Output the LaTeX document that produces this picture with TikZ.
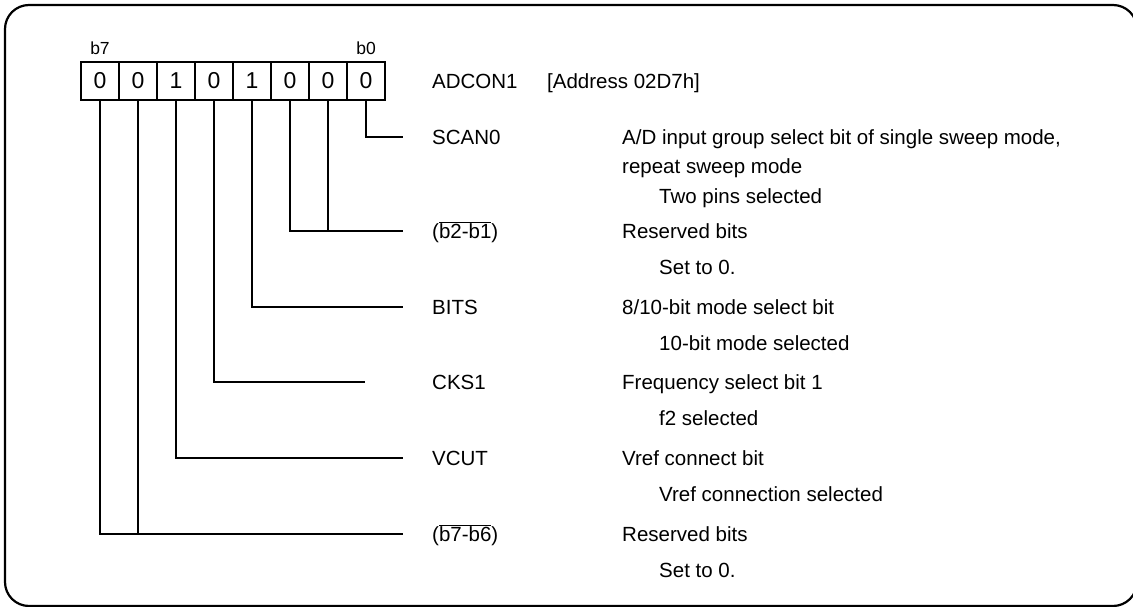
\documentclass[tikz,border=0pt]{standalone}
\usepackage{fontspec}
\setmainfont{Liberation Sans}
\begin{document}
\begin{tikzpicture}[x=1pt,y=-1pt,
  lbl/.style={font=\fontsize{20.5}{24}\selectfont, anchor=base west, inner sep=0pt},
  bitlbl/.style={font=\fontsize{17.5}{20}\selectfont, anchor=base, inner sep=0pt},
  cell/.style={draw, line width=1.4pt, minimum width=38pt, minimum height=38pt, inner sep=0pt, font=\fontsize{23}{26}\selectfont},
  wire/.style={line width=1.8pt},
  frame/.style={line width=2.2pt, rounded corners=24pt}]
\useasboundingbox (0,0) rectangle (1133,607);
\draw[frame] (5,5) rectangle (1137,606);
% bit cells
\foreach \v/\i [count=\k from 0] in {0/7,0/6,1/5,0/4,1/3,0/2,0/1,0/0}
  \node[cell] (c\i) at (100+38*\k,81) {\v};
\node[bitlbl] (b7) at (100,55) {b7};
\node[bitlbl] (b0) at (366,55) {b0};
% register title
\node[lbl] (reg) at (432,88.3) {ADCON1};
\node[lbl] (addr) at (547,88.3) {[Address 02D7h]};
% line ends
\coordinate (e0) at (403,137);
\coordinate (e21) at (403,231);
\coordinate (e3) at (403,307);
\coordinate (e4) at (365,382);
\coordinate (e5) at (403,458);
\coordinate (e76) at (403,534);
% connectors
\draw[wire] (c0.south) |- (e0);
\draw[wire] (c2.south) |- (e21);
\draw[wire] (c1.south) -- (c1.south |- e21);
\draw[wire] (c3.south) |- (e3);
\draw[wire] (c4.south) |- (e4);
\draw[wire] (c5.south) |- (e5);
\draw[wire] (c7.south) |- (e76);
\draw[wire] (c6.south) -- (c6.south |- e76);
% bit names
\node[lbl] (n0) at (432,144.3) {SCAN0};
\node[lbl] (n21) at (432,238.3) {($\overline{\mbox{b2-b1}}$)};
\node[lbl] (n3) at (432,314.3) {BITS};
\node[lbl] (n4) at (432,389.3) {CKS1};
\node[lbl] (n5) at (432,465.3) {VCUT};
\node[lbl] (n76) at (432,541.3) {($\overline{\mbox{b7-b6}}$)};
% descriptions
\node[lbl] (d0a) at (622,144.3) {A/D input group select bit of single sweep mode,};
\node[lbl] (d0b) at (622,173.3) {repeat sweep mode};
\node[lbl] (s0) at (659,203.3) {Two pins selected};
\node[lbl] (d21) at (622,238.3) {Reserved bits};
\node[lbl] (s21) at (659,274.3) {Set to 0.};
\node[lbl] (d3) at (622,314.3) {8/10-bit mode select bit};
\node[lbl] (s3) at (659,350.3) {10-bit mode selected};
\node[lbl] (d4) at (622,389.3) {Frequency select bit 1};
\node[lbl] (s4) at (659,425.3) {f2 selected};
\node[lbl] (d5) at (622,465.3) {Vref connect bit};
\node[lbl] (s5) at (659,501.3) {Vref connection selected};
\node[lbl] (d76) at (622,541.3) {Reserved bits};
\node[lbl] (s76) at (659,577.3) {Set to 0.};
\end{tikzpicture}
\end{document}
